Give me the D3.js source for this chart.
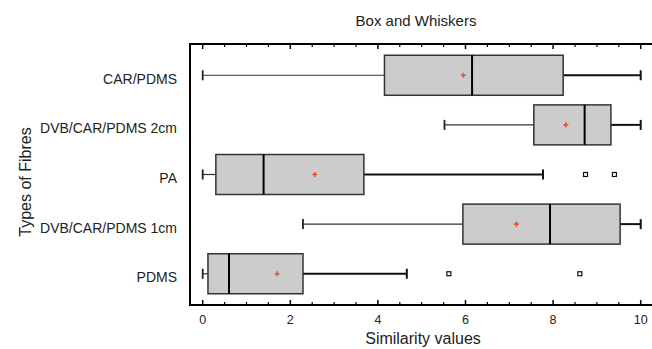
<!DOCTYPE html>
<html>
<head>
<meta charset="utf-8">
<script src="https://cdn.jsdelivr.net/npm/d3@7"></script>
<style>
  body { margin: 0; background: #fff; }
  text { font-family: "Liberation Sans", Arial, sans-serif; fill: #222; }
</style>
</head>
<body>
<div id="chart"></div>
<script>
// data
var categories = ["CAR/PDMS", "DVB/CAR/PDMS 2cm", "PA", "DVB/CAR/PDMS 1cm", "PDMS"];
var whiskerLow  = [0.00, 5.52, 0.00, 2.29, 0.00];
var q1          = [4.15, 7.56, 0.30, 5.94, 0.12];
var median      = [6.15, 8.72, 1.39, 7.93, 0.60];
var q3          = [8.23, 9.32, 3.68, 9.53, 2.29];
var whiskerHigh = [10.0, 10.0, 7.77, 10.0, 4.66];
var means       = [5.95, 8.29, 2.56, 7.16, 1.70];
var outliers    = [[], [], [8.74, 9.40], [], [5.62, 8.61]];
var xTicks = [0, 2, 4, 6, 8, 10];

var width = 652, height = 349;
var plot = {left: 190, right: 652, top: 44, bottom: 305};

var svg = d3.select("#chart")
  .append("svg")
    .attr("width", width)
    .attr("height", height);

// scales
var x = d3.scaleLinear()
  .domain([0, 10])
  .range([202.7, 640.7]);

var y = d3.scalePoint()
  .domain(categories)
  .range([plot.top, plot.bottom])
  .padding(0.63);

var boxH = 40, capH = 10;

var rows = categories.map(function(c, i) {
  return {cat: c, lo: whiskerLow[i], q1: q1[i], med: median[i], q3: q3[i],
          hi: whiskerHigh[i], mean: means[i], out: outliers[i]};
});

// minor ticks every 0.5
var minor = d3.range(0, 10.01, 0.5).filter(function(v) { return v % 2 !== 0; });

// bottom axis
var bottomAxis = svg.append("g")
  .attr("transform", "translate(0," + plot.bottom + ")");
bottomAxis.append("line")
  .attr("x1", plot.left).attr("x2", plot.right)
  .attr("stroke", "#000").attr("stroke-width", 2);
bottomAxis.selectAll(".major").data(xTicks).enter().append("line")
  .attr("x1", x).attr("x2", x).attr("y1", 0).attr("y2", -5)
  .attr("stroke", "#000").attr("stroke-width", 1.5);
bottomAxis.selectAll(".minor").data(minor).enter().append("line")
  .attr("x1", x).attr("x2", x).attr("y1", 0).attr("y2", -3)
  .attr("stroke", "#000").attr("stroke-width", 1.2);
bottomAxis.selectAll(".lbl").data(xTicks).enter().append("text")
  .attr("x", x).attr("y", 19)
  .attr("text-anchor", "middle")
  .style("font-size", "12.5px")
  .text(function(d) { return d; });

// top axis
var topAxis = svg.append("g")
  .attr("transform", "translate(0," + plot.top + ")");
topAxis.append("line")
  .attr("x1", plot.left).attr("x2", plot.right)
  .attr("stroke", "#000").attr("stroke-width", 2);
topAxis.selectAll(".major").data(xTicks).enter().append("line")
  .attr("x1", x).attr("x2", x).attr("y1", 0).attr("y2", 5)
  .attr("stroke", "#000").attr("stroke-width", 1.5);
topAxis.selectAll(".minor").data(minor).enter().append("line")
  .attr("x1", x).attr("x2", x).attr("y1", 0).attr("y2", 3)
  .attr("stroke", "#000").attr("stroke-width", 1.2);

// left axis line
svg.append("line")
  .attr("x1", plot.left).attr("x2", plot.left)
  .attr("y1", plot.top - 1).attr("y2", plot.bottom + 1)
  .attr("stroke", "#000").attr("stroke-width", 2);

// category labels
svg.selectAll(".cat").data(categories).enter().append("text")
  .attr("x", 177)
  .attr("y", function(d) { return y(d) + 8.5; })
  .attr("text-anchor", "end")
  .style("font-size", "14px")
  .text(function(d) { return d; });

// boxes
var g = svg.selectAll(".box").data(rows).enter().append("g");

// whiskers
g.append("line")
  .attr("x1", function(d) { return x(d.lo); })
  .attr("x2", function(d) { return x(d.q1); })
  .attr("y1", function(d) { return y(d.cat); })
  .attr("y2", function(d) { return y(d.cat); })
  .attr("stroke", "#333").attr("stroke-width", 1.2);
g.append("line")
  .attr("x1", function(d) { return x(d.q3); })
  .attr("x2", function(d) { return x(d.hi); })
  .attr("y1", function(d) { return y(d.cat); })
  .attr("y2", function(d) { return y(d.cat); })
  .attr("stroke", "#111").attr("stroke-width", 2);
g.append("line")
  .attr("x1", function(d) { return x(d.lo); })
  .attr("x2", function(d) { return x(d.lo); })
  .attr("y1", function(d) { return y(d.cat) - capH / 2; })
  .attr("y2", function(d) { return y(d.cat) + capH / 2; })
  .attr("stroke", "#222").attr("stroke-width", 1.8);
g.append("line")
  .attr("x1", function(d) { return x(d.hi); })
  .attr("x2", function(d) { return x(d.hi); })
  .attr("y1", function(d) { return y(d.cat) - capH / 2; })
  .attr("y2", function(d) { return y(d.cat) + capH / 2; })
  .attr("stroke", "#111").attr("stroke-width", 2);

// box body
g.append("rect")
  .attr("x", function(d) { return x(d.q1); })
  .attr("width", function(d) { return x(d.q3) - x(d.q1); })
  .attr("y", function(d) { return y(d.cat) - boxH / 2; })
  .attr("height", boxH)
  .attr("fill", "#cccccc")
  .attr("stroke", "#333").attr("stroke-width", 1.5);

// median
g.append("line")
  .attr("x1", function(d) { return x(d.med); })
  .attr("x2", function(d) { return x(d.med); })
  .attr("y1", function(d) { return y(d.cat) - boxH / 2; })
  .attr("y2", function(d) { return y(d.cat) + boxH / 2; })
  .attr("stroke", "#000").attr("stroke-width", 2);

// mean marker
g.append("path")
  .attr("d", d3.symbol().type(d3.symbolCross).size(14))
  .attr("transform", function(d) { return "translate(" + x(d.mean) + "," + y(d.cat) + ")"; })
  .attr("fill", "#e8542a");

// outliers
g.each(function(d) {
  d3.select(this).selectAll(".out").data(d.out).enter().append("rect")
    .attr("x", function(v) { return x(v) - 2; })
    .attr("y", y(d.cat) - 2)
    .attr("width", 4).attr("height", 4)
    .attr("fill", "#fff")
    .attr("stroke", "#111").attr("stroke-width", 1.2);
});

// title and axis titles
svg.append("text")
  .attr("x", 416).attr("y", 26)
  .attr("text-anchor", "middle")
  .style("font-size", "15px")
  .text("Box and Whiskers");

svg.append("text")
  .attr("x", 423).attr("y", 344)
  .attr("text-anchor", "middle")
  .style("font-size", "16px")
  .text("Similarity values");

svg.append("text")
  .attr("transform", "translate(31,182)rotate(-90)")
  .attr("text-anchor", "middle")
  .style("font-size", "16px")
  .text("Types of Fibres");
</script>
</body>
</html>
